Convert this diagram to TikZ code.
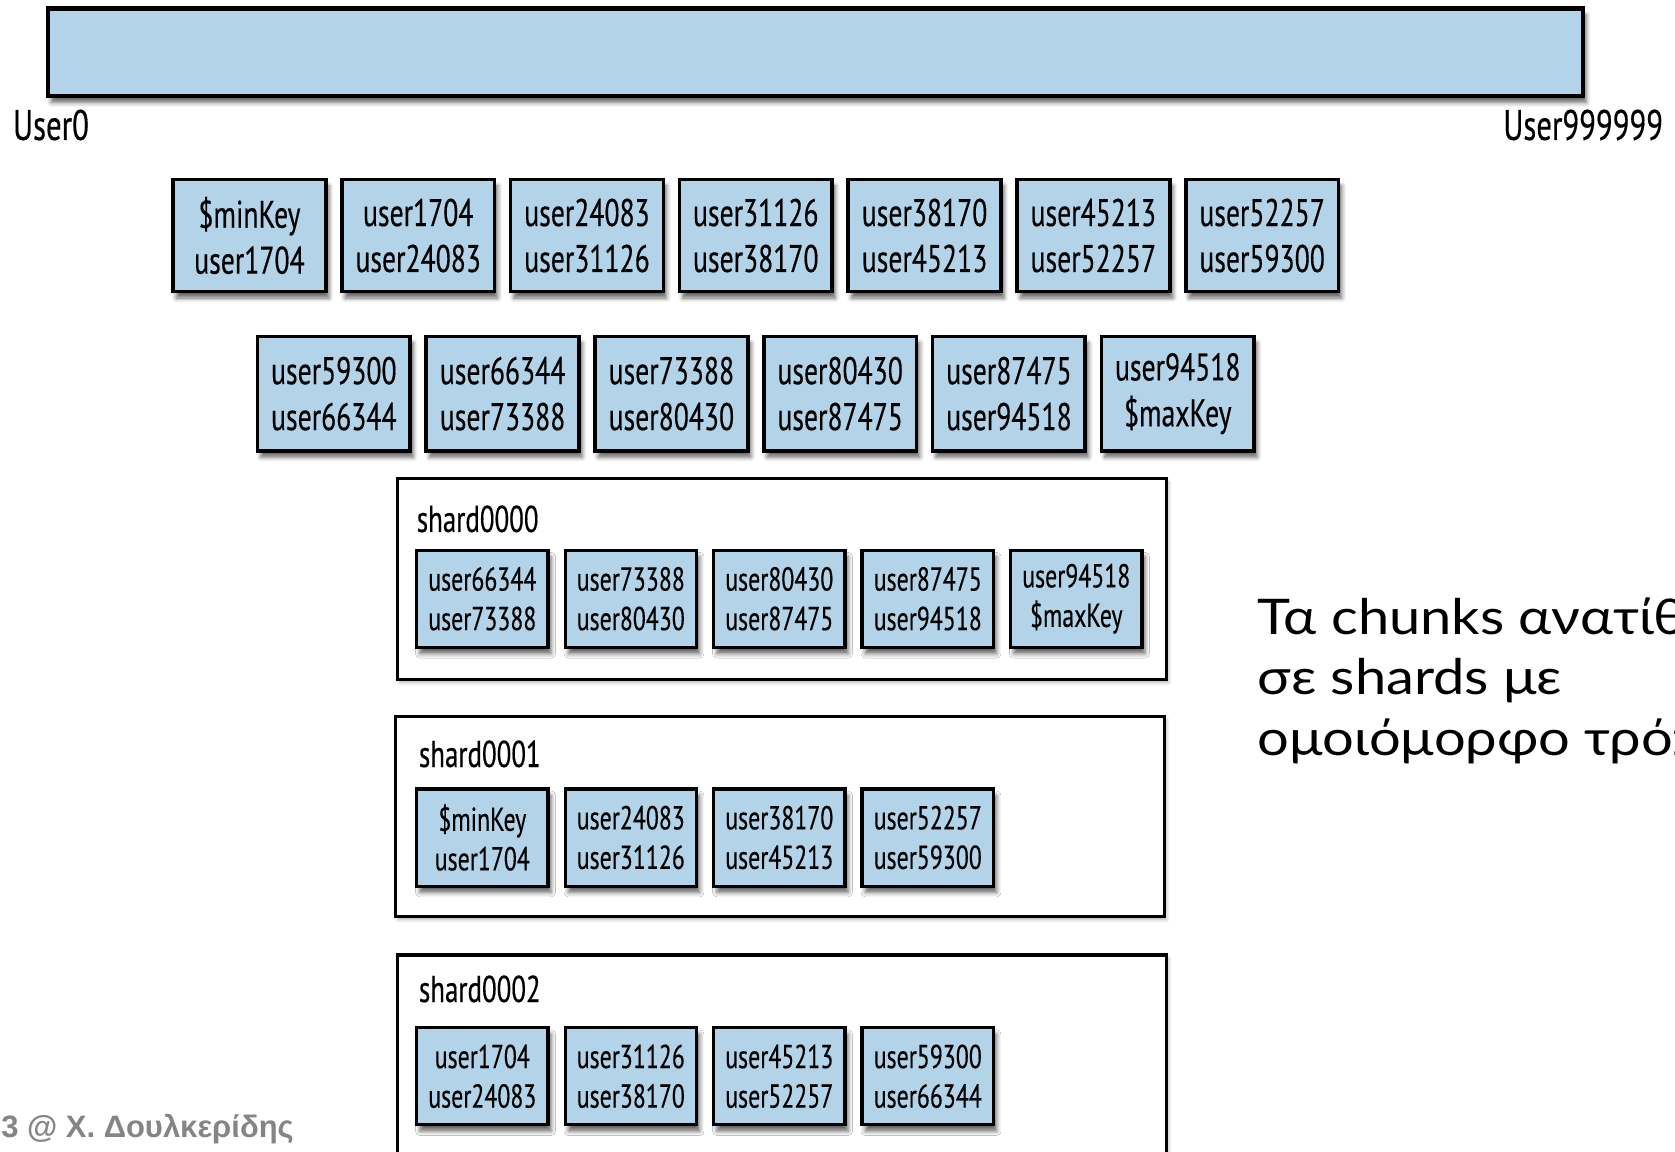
\documentclass[tikz,border=0pt]{standalone}
\usepackage{fontspec}
\usetikzlibrary{shadows.blur}
\newfontfamily\condfont[FakeStretch=0.72,FakeBold=0.35]{PT Sans}
\newfontfamily\notefont[FakeStretch=1.14]{Lato}
\newfontfamily\footfont{Liberation Sans}
\definecolor{chunkblue}{HTML}{B3D4E8}
\definecolor{footgray}{HTML}{858585}
\begin{document}
\begin{tikzpicture}[x=1pt,y=-1pt,
  softshadow/.style={blur shadow={shadow xshift=3pt, shadow yshift=-6pt, shadow blur radius=4pt, shadow opacity=60}},
  faintshadow/.style={blur shadow={shadow xshift=2pt, shadow yshift=-3pt, shadow blur radius=3pt, shadow opacity=30}},
  rangebar/.style={draw, line width=4pt, fill=chunkblue, softshadow, minimum width=1437pt, minimum height=82pt, inner sep=0pt},
  bigchunk/.style={draw, line width=3.5pt, fill=chunkblue, softshadow, minimum width=143pt, minimum height=105pt, inner sep=0pt, align=center, font=\condfont\fontsize{36}{43}\selectfont},
  smallchunk/.style={draw, line width=3pt, fill=chunkblue, softshadow, minimum width=123pt, minimum height=91pt, inner sep=0pt, align=center, font=\condfont\fontsize{31}{37}\selectfont},
  shardbox/.style={draw, line width=3pt, fill=white, faintshadow, minimum width=720pt, inner sep=0pt},
  keylabel/.style={font=\condfont\fontsize{40}{48}\selectfont, inner sep=0pt},
  shardlabel/.style={font=\condfont\fontsize{35}{42}\selectfont, inner sep=0pt, anchor=base west},
  notetext/.style={font=\notefont\fontsize{46}{57}\selectfont, align=left, inner sep=0pt, anchor=north west},
  foottext/.style={font=\footfont\bfseries\fontsize{29}{34}\selectfont, text=footgray, inner sep=0pt, anchor=base west},
]
\useasboundingbox (0,0) rectangle (1568,1078);
\clip (0,0) rectangle (1568,1078);

% whole key range
\node[rangebar] (range) at (763.5,49) {};
\node[keylabel, anchor=base west] (lo) at (12,131) {User0};
\node[keylabel, anchor=base east] (hi) at (1557,131) {User999999};

% chunks, first row
\foreach \a/\b [count=\i from 0] in {{\$minKey}/user1704, user1704/user24083, user24083/user31126,
    user31126/user38170, user38170/user45213, user45213/user52257, user52257/user59300}
  \node[bigchunk] (top\i) at (233.5+158*\i,220.5) {\a\\\b};

% chunks, second row
\foreach \a/\b [count=\i from 0] in {user59300/user66344, user66344/user73388, user73388/user80430,
    user80430/user87475, user87475/user94518, {user94518}/{\$maxKey}}
  \node[bigchunk, minimum height=107pt] (bot\i) at (312.5+158*\i,368.5) {\a\\\b};

% shards
\node[shardbox, minimum height=188pt] (shard0) at (732,542) {};
\node[shardbox, minimum height=187pt] (shard1) at (730,764.5) {};
\node[shardbox, minimum height=250pt] (shard2) at (732,1019) {};

\node[shardlabel] (lab0) at (390,498) {shard0000};
\node[shardlabel] (lab1) at (392,718) {shard0001};
\node[shardlabel] (lab2) at (392,938) {shard0002};

\foreach \a/\b [count=\i from 0] in {user66344/user73388, user73388/user80430, user80430/user87475,
    user87475/user94518, {user94518}/{\$maxKey}}
  \node[smallchunk] (sa\i) at (451.5+139*\i,560.5) {\a\\\b};

\foreach \a/\b [count=\i from 0] in {{\$minKey}/user1704, user24083/user31126, user38170/user45213,
    user52257/user59300}
  \node[smallchunk] (sb\i) at (451.5+139*\i,784) {\a\\\b};

\foreach \a/\b [count=\i from 0] in {user1704/user24083, user31126/user38170, user45213/user52257,
    user59300/user66344}
  \node[smallchunk] (sc\i) at (451.5+139*\i,1007.5) {\a\\\b};

% side note and footer
\node[notetext] (note) at (1177,559) {Τα chunks ανατίθενται\\σε shards με\\ομοιόμορφο τρόπο};
\node[foottext] (foot) at (1,1065) {3 @ Χ. Δουλκερίδης};
\end{tikzpicture}
\end{document}
